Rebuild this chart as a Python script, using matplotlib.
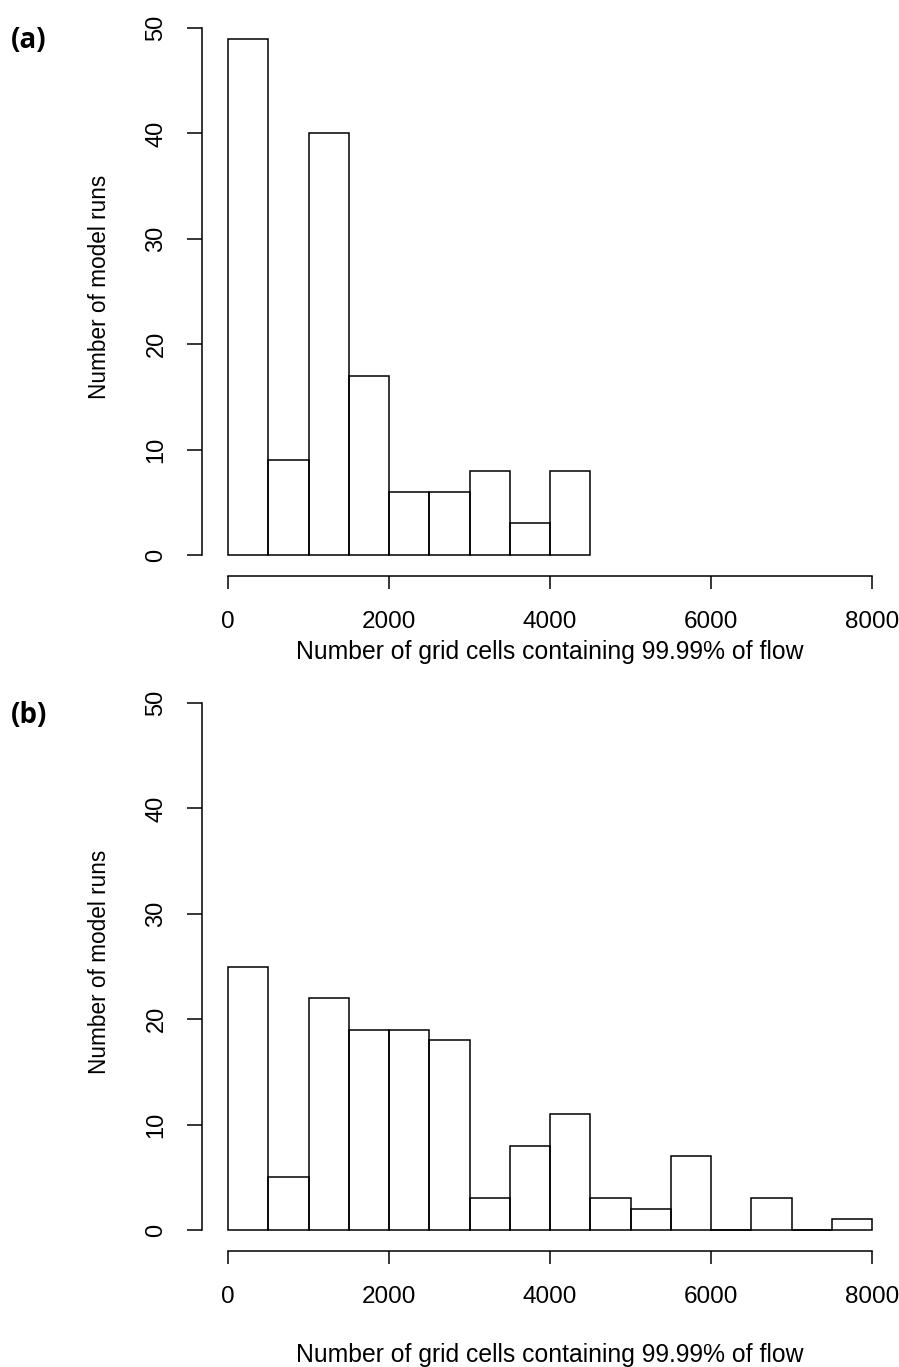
import matplotlib
matplotlib.use("Agg")
import matplotlib.pyplot as plt
import numpy as np

bin_edges = [0, 500, 1000, 1500, 2000, 2500, 3000, 3500, 4000, 4500, 5000,
             5500, 6000, 6500, 7000, 7500, 8000]
counts_a = [49, 9, 40, 17, 6, 6, 8, 3, 8]
counts_b = [25, 5, 22, 19, 19, 18, 3, 8, 11, 3, 2, 7, 0, 3, 0, 1]
x_ticks = [0, 2000, 4000, 6000, 8000]
y_ticks = [0, 10, 20, 30, 40, 50]
xlabel = "Number of grid cells containing 99.99% of flow"
ylabel = "Number of model runs"
panel_labels = ["(a)", "(b)"]

W, H = 899, 1367
DPI = 100
fig = plt.figure(figsize=(W / DPI, H / DPI), dpi=DPI)
fig.patch.set_facecolor("white")

FONT = ["Liberation Sans", "DejaVu Sans"]
LW = 1.1
px2pt = 72 / DPI

def add_panel(top, bottom, counts, plabel, xlab_y):
    left, right = 228, 872
    ax = fig.add_axes([left / W, 1 - bottom / H, (right - left) / W, (bottom - top) / H])
    n = len(counts)
    lefts = bin_edges[:n]
    bars = ax.bar(lefts, counts, width=500, align="edge", fill=False,
                  edgecolor="black", linewidth=LW)
    for b in bars:
        b.set_clip_on(False)
    # zero-count bins are drawn as a flat line, as R's hist does
    for l, c in zip(lefts, counts):
        if c == 0:
            ax.plot([l, l + 500], [0, 0], color="black", lw=LW, clip_on=False)
    ax.set_xlim(0, 8000)
    ax.set_ylim(0, 50)
    for s in ["top", "right"]:
        ax.spines[s].set_visible(False)
    ax.spines["left"].set_position(("outward", 26 * px2pt))
    ax.spines["bottom"].set_position(("outward", 21 * px2pt))
    ax.spines["left"].set_bounds(0, 50)
    ax.spines["bottom"].set_bounds(0, 8000)
    for s in ["left", "bottom"]:
        ax.spines[s].set_linewidth(LW)
    ax.set_xticks(x_ticks)
    ax.set_yticks(y_ticks)
    ax.set_xticklabels([str(t) for t in x_ticks], fontsize=17.5, family=FONT)
    ax.set_yticklabels([str(t) for t in y_ticks], fontsize=17, family=FONT,
                       rotation=90, va="center")
    ax.tick_params(axis="x", direction="out", length=13 * px2pt, width=LW, pad=16)
    ax.tick_params(axis="y", direction="out", length=15 * px2pt, width=LW, pad=14)
    ax.patch.set_alpha(0)
    fig.text(550 / W, 1 - xlab_y / H, xlabel, ha="center", va="center",
             fontsize=17.8, family=FONT)
    fig.text(99 / W, 1 - ((top + bottom) / 2 - 5) / H, ylabel, ha="center", va="center",
             rotation=90, fontsize=16.3, family=FONT)
    fig.text(29 / W, 1 - (top + 13) / H, plabel, ha="center", va="center",
             fontsize=20, fontweight="bold", family=["Open Sans", "DejaVu Sans"])
    return ax

add_panel(28, 555, counts_a, panel_labels[0], 652)
add_panel(703, 1230, counts_b, panel_labels[1], 1355)

fig.savefig("out.png", dpi=DPI, facecolor="white")
